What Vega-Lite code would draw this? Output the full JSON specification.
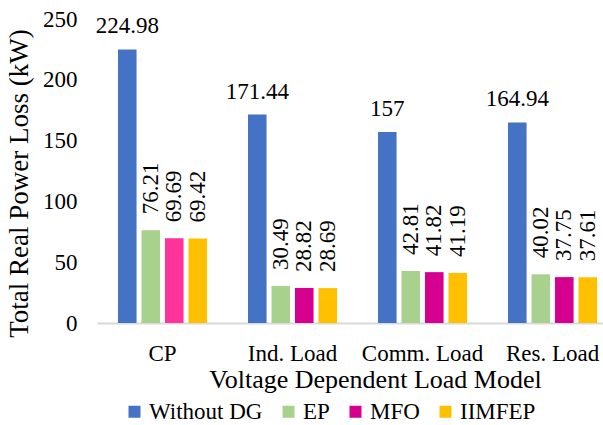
{
  "$schema": "https://vega.github.io/schema/vega-lite/v6.json",
  "width": 506,
  "height": 304,
  "autosize": {"type": "none"},
  "padding": {"left": 97, "top": 19, "right": 0, "bottom": 102},
  "background": "white",
  "config": {
    "view": {"stroke": null},
    "font": "Liberation Serif",
    "text": {"font": "Liberation Serif"}
  },
  "data": {
    "values": [
      {"model": "CP", "series": "Without DG", "loss": 224.98},
      {"model": "CP", "series": "EP", "loss": 76.21},
      {"model": "CP", "series": "MFO", "loss": 69.69},
      {"model": "CP", "series": "IIMFEP", "loss": 69.42},
      {"model": "Ind. Load", "series": "Without DG", "loss": 171.44},
      {"model": "Ind. Load", "series": "EP", "loss": 30.49},
      {"model": "Ind. Load", "series": "MFO", "loss": 28.82},
      {"model": "Ind. Load", "series": "IIMFEP", "loss": 28.69},
      {"model": "Comm. Load", "series": "Without DG", "loss": 157},
      {"model": "Comm. Load", "series": "EP", "loss": 42.81},
      {"model": "Comm. Load", "series": "MFO", "loss": 41.82},
      {"model": "Comm. Load", "series": "IIMFEP", "loss": 41.19},
      {"model": "Res. Load", "series": "Without DG", "loss": 164.94},
      {"model": "Res. Load", "series": "EP", "loss": 40.02},
      {"model": "Res. Load", "series": "MFO", "loss": 37.75},
      {"model": "Res. Load", "series": "IIMFEP", "loss": 37.61}
    ]
  },
  "encoding": {
    "x": {
      "field": "model",
      "type": "nominal",
      "sort": ["CP", "Ind. Load", "Comm. Load", "Res. Load"],
      "scale": {"paddingInner": 0.315, "paddingOuter": 0.1035, "align": 0.78},
      "axis": {
        "title": "Voltage Dependent Load Model",
        "labelAngle": 0,
        "labelFont": "Liberation Serif",
        "labelFontSize": 23,
        "labelColor": "#000000",
        "labelPadding": 19,
        "ticks": false,
        "domainColor": "#D9D9D9",
        "domainWidth": 2,
        "titleFont": "Liberation Serif",
        "titleFontSize": 26,
        "titleFontWeight": "normal",
        "titleColor": "#000000",
        "titleX": 278,
        "titleY": 64,
        "titleBaseline": "alphabetic"
      }
    },
    "xOffset": {
      "field": "series",
      "type": "nominal",
      "sort": ["Without DG", "EP", "MFO", "IIMFEP"],
      "scale": {"paddingInner": 0.21, "paddingOuter": 0}
    },
    "y": {
      "field": "loss",
      "type": "quantitative",
      "scale": {"domain": [0, 250], "nice": false},
      "axis": {
        "title": "Total Real Power Loss (kW)",
        "values": [0, 50, 100, 150, 200, 250],
        "grid": false,
        "ticks": false,
        "domain": false,
        "labelFont": "Liberation Serif",
        "labelFontSize": 23,
        "labelColor": "#000000",
        "labelPadding": 20,
        "titleFont": "Liberation Serif",
        "titleFontSize": 27,
        "titleFontWeight": "normal",
        "titleColor": "#000000",
        "titleX": -70,
        "titleY": 164,
        "titleAngle": -90,
        "titleAlign": "center",
        "titleBaseline": "alphabetic"
      }
    }
  },
  "layer": [
    {
      "mark": {"type": "bar"},
      "encoding": {
        "color": {
          "condition": {"test": "datum.model === 'CP' && datum.series === 'MFO'", "value": "#FF3399"},
          "field": "series",
          "type": "nominal",
          "sort": ["Without DG", "EP", "MFO", "IIMFEP"],
          "scale": {
            "domain": ["Without DG", "EP", "MFO", "IIMFEP"],
            "range": ["#4472C4", "#A9D18E", "#D6008F", "#FFC000"]
          },
          "legend": {
            "title": null,
            "orient": "none",
            "direction": "horizontal",
            "legendX": 26,
            "legendY": 381,
            "padding": 0,
            "symbolType": "square",
            "symbolSize": 144,
            "symbolStrokeWidth": 0,
            "labelFont": "Liberation Serif",
            "labelFontSize": 23,
            "labelColor": "#000000",
            "labelOffset": 3,
            "columnPadding": 14
          }
        }
      }
    },
    {
      "transform": [{"filter": "datum.series === 'Without DG'"}],
      "mark": {"type": "text", "baseline": "alphabetic", "align": "center", "dy": -16, "fontSize": 23, "font": "Liberation Serif", "color": "#000000"},
      "encoding": {"text": {"field": "loss", "type": "nominal"}}
    },
    {
      "transform": [{"filter": "datum.series !== 'Without DG'"}],
      "mark": {"type": "text", "angle": -90, "baseline": "middle", "align": "left", "dx": 16, "fontSize": 23, "font": "Liberation Serif", "color": "#000000"},
      "encoding": {"text": {"field": "loss", "type": "nominal"}}
    }
  ]
}
